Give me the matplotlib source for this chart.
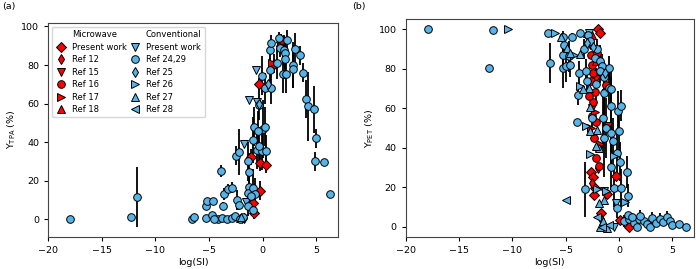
import matplotlib
matplotlib.use('Agg')
import matplotlib.pyplot as plt
from matplotlib.lines import Line2D

RED = '#ff0000'
BLUE = '#56b4e9'

# ---- panel (a): Y_TPA ----
# microwave
a_mw_pw_x = [-0.35, -1.06, -0.28, 0.28, -0.22, -0.94, -0.84, 1.7, 1.06]
a_mw_pw_y = [70.3, 32.4, 29.3, 28.0, 14.8, 8.6, 3.1, 92.0, 80.7]
a_mw_pw_e = [3, 4, 4, 4, 5, 4, 3, 4, 5]
a_r12_x = [-1.7, 1.5]
a_r12_y = [0.5, 90.0]
a_r15_x = [-1.9]
a_r15_y = [0.0]
a_r16_x = [1.8]
a_r16_y = [93.0]
a_r17_x = [0.9]
a_r17_y = [81.0]
a_r18_x = [-2.1]
a_r18_y = [0.8]
# conventional
a_cv_pw_x = [-0.6, -1.3, -1.75, -1.6, -0.55]
a_cv_pw_y = [77.6, 62.0, 39.0, 9.0, 61.0]
a_r2429_x = [-18.0, -12.25, -11.75, -6.6, -6.4, -5.3, -5.2, -5.3, -4.6, -4.7,
             -3.9, -3.7, -3.6, -3.2, -2.9, -2.5, -2.25, -2.4, -2.2, -4.2,
             -3.8, -3.3, -2.9, -2.6, -2.1, -1.8, -4.5, -1.4, -1.3, -1.3,
             -1.4, -0.84, -0.87, -0.5, -0.87, -0.75, -0.3, -0.1, 0.0, 0.2,
             -0.1, 0.3, 0.2, 0.75, 0.7, 0.7, 0.8, 1.3, 1.5, 1.6,
             1.9, 2.0, 2.1, 2.1, 2.2, 2.3, 2.8, 2.8, 3.0, 3.5,
             3.75, 4.0, 4.25, 4.8, 4.97, 4.9, 5.7, 6.3, -1.4, -1.1,
             -0.9, -0.3, -0.4]
a_r2429_y = [0.0, 1.2, 11.4, 0.0, 1.0, 7.0, 9.3, 0.5, 9.3, 2.2,
             25.0, 7.0, 13.0, 15.5, 16.5, 33.0, 35.0, 10.0, 7.6, 0.0,
             0.5, 0.0, 0.5, 2.0, 0.0, 1.0, 0.0, 30.0, 24.5, 17.0,
             13.5, 48.0, 41.0, 36.0, 16.0, 13.4, 59.5, 74.5, 47.0, 48.0,
             35.5, 35.5, 68.0, 68.0, 77.6, 88.0, 91.4, 81.0, 94.0, 89.0,
             75.5, 87.6, 86.0, 83.0, 75.5, 93.0, 80.0, 78.0, 88.5, 85.0,
             76.0, 62.4, 58.6, 57.0, 42.0, 30.0, 29.6, 13.0, 7.0, 12.0,
             5.0, 38.0, 46.0]
a_r2429_e = [0, 0, 15.5, 0, 0, 2, 2, 0, 2, 0,
             3, 2, 3, 3, 3, 5, 12, 5, 3, 0,
             0, 0, 0, 0, 0, 0, 0, 10, 10, 8,
             5, 10, 12, 10, 10, 8, 8, 10, 15, 10,
             10, 8, 8, 8, 6, 5, 4, 8, 3, 5,
             10, 8, 8, 10, 10, 5, 12, 10, 8, 5,
             5, 10, 18, 12, 5, 5, 0, 0, 5, 5,
             0, 10, 10]
a_r25_x = [-0.3, 0.5]
a_r25_y = [60.0, 70.0]
a_r27_x = [-2.0]
a_r27_y = [1.0]

# ---- panel (b): Y_PET ----
b_mw_pw_x = [-2.0, -1.75, -2.63, -2.44, -2.29, -2.38, -1.13, -0.31, -1.66, 0.06, 0.9]
b_mw_pw_y = [100.3, 98.3, 28.0, 25.4, 19.5, 16.1, 16.4, 25.8, 6.8, 3.4, -0.3]
b_r12_x = [-2.5, -2.0, -1.7]
b_r12_y = [22.0, 30.0, 4.0]
b_r15_x = [-2.5, -2.2, -2.7, -1.0]
b_r15_y = [60.0, 75.0, 92.0, 51.0]
b_r16_x = [-2.9, -2.7, -2.6, -2.5, -2.4, -2.6, -2.3, -2.4, -2.5, -2.2,
           -2.35, -2.0, -2.2, -1.9, -1.2, -2.8, -2.1]
b_r16_y = [97.0, 94.0, 87.0, 82.0, 78.0, 74.0, 68.0, 63.0, 56.0, 53.0,
           45.0, 40.0, 35.0, 31.0, 72.0, 66.0, 88.0]
b_r17_x = [-2.3, -2.6, -1.8]
b_r17_y = [58.0, 50.0, 42.0]
b_r18_x = [-2.5, -2.2, -3.0]
b_r18_y = [97.0, 84.0, 98.0]

b_cv_pw_x = [-1.44, -0.5, -2.85, -1.6, -0.3]
b_cv_pw_y = [18.3, 0.0, 98.0, 80.0, 12.0]
b_r2429_x = [-17.96, -12.16, -11.8, -6.7, -6.45, -5.3, -5.2, -5.3, -5.3, -4.95,
             -4.67, -4.64, -4.4, -3.7, -3.86, -3.9, -3.8, -3.23, -3.26, -3.07,
             -3.0, -2.9, -2.76, -2.5, -2.3, -2.1, -2.16, -1.75, -1.6, -1.75,
             -1.44, -1.38, -1.5, -1.44, -1.22, -0.97, -0.97, -0.8, -0.8, -0.8,
             -0.56, -0.8, -0.44, -0.2, -0.03, -0.1, 0.2, 0.2, 0.1, -0.2,
             0.72, 0.85, 0.5, 0.9, 1.4, 1.7, 1.9, 2.3, 2.6, 2.9,
             3.1, 3.5, 3.8, 4.1, 4.5, 4.8, 5.0, 5.6, 6.3, 0.8,
             1.2, 2.0]
b_r2429_y = [100.0, 80.5, 99.5, 98.0, 83.0, 96.0, 92.0, 86.8, 80.5, 81.4,
             86.3, 81.7, 96.0, 98.3, 66.6, 53.0, 78.0, 19.0, 90.0, 78.8,
             73.7, 97.0, 94.0, 55.0, 85.6, 90.0, 72.4, 84.0, 81.4, 78.8,
             76.0, 67.8, 55.0, 45.0, 50.0, 80.5, 70.3, 70.0, 61.0, 47.5,
             43.2, 30.5, 19.8, 37.3, 48.3, 58.5, 19.5, 61.4, 33.0, 9.3,
             27.8, 15.8, 3.0, 4.0, 2.0, 0.0, 4.0, 3.0, 1.5, 0.0,
             4.5, 2.0, 4.0, 2.5, 5.0, 3.0, 1.0, 1.5, 0.0, 6.0,
             5.0, 5.5]
b_r2429_e = [0, 0, 0, 0, 10, 3, 3, 8, 10, 8,
             8, 6, 2, 0, 5, 0, 6, 14, 5, 6,
             6, 2, 3, 8, 5, 5, 8, 8, 6, 6,
             8, 12, 15, 20, 15, 6, 8, 10, 15, 15,
             12, 12, 10, 10, 12, 10, 10, 8, 10, 5,
             8, 6, 3, 2, 2, 0, 3, 2, 0, 0,
             3, 2, 3, 2, 3, 2, 0, 0, 0, 0,
             2, 3]
b_r25_x = [-3.0, -2.4, -1.3]
b_r25_y = [93.0, 91.0, 78.0]
b_r26_x = [-10.4, -5.96, -3.7, -3.07, -2.7, -2.07, -0.5, 0.6, -4.2, -1.2]
b_r26_y = [100.0, 98.3, 71.5, 51.2, 37.0, 19.0, 36.0, 12.4, 87.0, 18.0]
b_r27_x = [-5.45, -4.9, -3.64, -2.8, -2.7, -2.7, -2.07, -1.9, -1.4, -1.9,
           -1.75, -1.1, -2.2, -4.6, -3.4, -1.5]
b_r27_y = [96.3, 90.7, 87.3, 70.3, 60.7, 48.3, 49.0, 39.8, 13.6, 11.9,
           0.0, -0.8, 40.7, 88.0, 70.0, 3.0]
b_r28_x = [-4.95, -2.07, -0.9, -1.6]
b_r28_y = [13.6, 5.0, 1.0, 0.0]

MS = 5.5


def pts(ax, x, y, marker, color, yerr=None, ms=MS):
    ax.errorbar(x, y, yerr=yerr, fmt=marker, mfc=color, mec='k', mew=0.7,
                ms=ms, ecolor='k', elinewidth=1.3, capsize=0)


plt.rcParams['font.size'] = 6.8
plt.rcParams['axes.edgecolor'] = '#444444'
plt.rcParams['xtick.major.size'] = 3
plt.rcParams['ytick.major.size'] = 3
fig = plt.figure(figsize=(6.96, 2.69), dpi=100)
ax1 = fig.add_axes([0.0694, 0.120, 0.4158, 0.796])
ax2 = fig.add_axes([0.583, 0.120, 0.4137, 0.808])

# (a)
pts(ax1, a_mw_pw_x, a_mw_pw_y, 'D', RED, a_mw_pw_e)
pts(ax1, a_r12_x, a_r12_y, 'd', RED)
pts(ax1, a_r15_x, a_r15_y, 'v', RED)
pts(ax1, a_r16_x, a_r16_y, 'o', RED)
pts(ax1, a_r17_x, a_r17_y, '>', RED)
pts(ax1, a_r18_x, a_r18_y, '^', RED)
pts(ax1, a_cv_pw_x, a_cv_pw_y, 'v', BLUE)
pts(ax1, a_r2429_x, a_r2429_y, 'o', BLUE, a_r2429_e)
pts(ax1, a_r25_x, a_r25_y, 'd', BLUE)
pts(ax1, a_r27_x, a_r27_y, '^', BLUE)

# (b)
pts(ax2, b_mw_pw_x, b_mw_pw_y, 'D', RED)
pts(ax2, b_r12_x, b_r12_y, 'd', RED)
pts(ax2, b_r15_x, b_r15_y, 'v', RED)
pts(ax2, b_r16_x, b_r16_y, 'o', RED)
pts(ax2, b_r17_x, b_r17_y, '>', RED)
pts(ax2, b_r18_x, b_r18_y, '^', RED)
pts(ax2, b_cv_pw_x, b_cv_pw_y, 'v', BLUE)
pts(ax2, b_r2429_x, b_r2429_y, 'o', BLUE, b_r2429_e)
pts(ax2, b_r25_x, b_r25_y, 'd', BLUE)
pts(ax2, b_r26_x, b_r26_y, '>', BLUE)
pts(ax2, b_r27_x, b_r27_y, '^', BLUE)
pts(ax2, b_r28_x, b_r28_y, '<', BLUE)

for ax in (ax1, ax2):
    ax.set_xlim(-20, 7)
    ax.set_xticks([-20, -15, -10, -5, 0, 5])
    ax.set_xlabel('log(SI)', labelpad=2)
ax1.set_ylim(-9, 102)
ax2.set_ylim(-5, 105)
ax1.set_ylabel(r'Y$_{\mathrm{TPA}}$ (%)', labelpad=2)
ax2.set_ylabel(r'Y$_{\mathrm{PET}}$ (%)', labelpad=2)

# legend with group headers
def h(marker, color):
    return Line2D([], [], ls='none', marker=marker, mfc=color, mec='k', mew=0.7, ms=MS)

blank = Line2D([], [], ls='none')
handles = [blank, h('D', RED), h('d', RED), h('v', RED), h('o', RED), h('>', RED), h('^', RED),
           blank, h('v', BLUE), h('o', BLUE), h('d', BLUE), h('>', BLUE), h('^', BLUE), h('<', BLUE)]
labels = ['Microwave', 'Present work', 'Ref 12', 'Ref 15', 'Ref 16', 'Ref 17', 'Ref 18',
          'Conventional', 'Present work', 'Ref 24,29', 'Ref 25', 'Ref 26', 'Ref 27', 'Ref 28']
ax1.legend(handles, labels, ncol=2, loc='upper left', fontsize=6,
           handlelength=1.3, handletextpad=0.6, columnspacing=0.4,
           labelspacing=0.42, borderpad=0.4)

fig.text(0.003, 0.975, '(a)', va='center', ha='left')
fig.text(0.506, 0.975, '(b)', va='center', ha='left')

fig.savefig('out.png', dpi=100)
